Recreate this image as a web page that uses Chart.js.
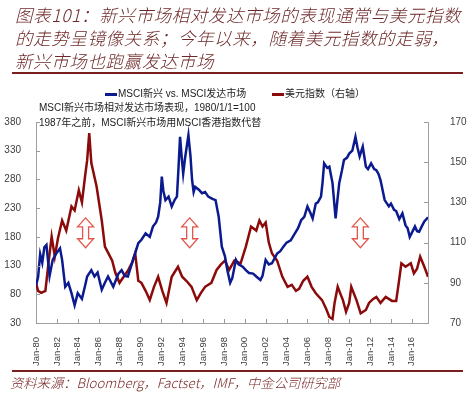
<!DOCTYPE html>
<html>
<head>
<meta charset="utf-8">
<script src="https://cdn.jsdelivr.net/npm/chart.js@4.4.1/dist/chart.umd.min.js"></script>
<style>
    body { margin: 0; width: 469px; height: 397px; background: #fff; position: relative; overflow: hidden;
           font-family: "Liberation Sans", Arial, "Noto Sans CJK SC", sans-serif; }
    #chart { position: absolute; left: 0; top: 0; }
    .title { position: absolute; left: 15px; top: 3px; width: 460px; font-family: "Noto Sans CJK SC", sans-serif;
             font-style: italic; font-weight: 300; font-size: 17.5px; line-height: 23px; color: #6e2828;
             letter-spacing: 0.6px; white-space: nowrap; }
    .rule { position: absolute; left: 12px; width: 451px; background: #7a1f1f; }
    .legend { position: absolute; top: 85px; font-size: 10px; color: #222; white-space: nowrap; }
    .legend i { display: inline-block; width: 12px; height: 2.5px; vertical-align: middle; margin-right: 1px; }
    .note { position: absolute; left: 39px; font-size: 10px; color: #222; white-space: nowrap; }
    .source { position: absolute; left: 10px; top: 373px; font-family: "Noto Sans CJK SC", sans-serif;
              font-style: italic; font-weight: 300; font-size: 13.3px; color: #7a2828; white-space: nowrap; }
</style>
</head>
<body>
<canvas id="chart" width="469" height="397"></canvas>
<div class="title">图表101：新兴市场相对发达市场的表现通常与美元指数<br>的走势呈镜像关系；今年以来，随着美元指数的走弱，<br>新兴市场也跑赢发达市场</div>
<div class="rule" style="top:72px;height:2px;"></div>
<div class="legend" style="left:105px;"><i style="background:#0b1a8f"></i>MSCI新兴 vs. MSCI发达市场</div>
<div class="legend" style="left:272px;"><i style="background:#8b0a0a"></i>美元指数（右轴）</div>
<div class="note" style="top:99px;">MSCI新兴市场相对发达市场表现，1980/1/1=100</div>
<div class="note" style="top:114px;">1987年之前，MSCI新兴市场用MSCI香港指数代替</div>
<div class="rule" style="top:370px;height:1.5px;"></div>
<div class="source">资料来源：Bloomberg，Factset，IMF，中金公司研究部</div>

<script>
// MSCI EM vs DM relative index (left axis)
const emYears = [
    1980.0, 1980.2, 1980.4, 1980.6, 1980.8, 1981.0, 1981.3, 1981.6, 1981.9, 1982.3, 1982.5,
    1982.8, 1983.1, 1983.4, 1983.7, 1984.0, 1984.4, 1984.7, 1984.9, 1985.3, 1985.6, 1985.9,
    1986.3, 1986.6, 1986.9, 1987.4, 1987.9, 1988.2, 1988.5, 1988.8, 1989.3, 1989.8, 1990.1,
    1990.5, 1990.9, 1991.2, 1991.5, 1991.7, 1991.9, 1992.05, 1992.2, 1992.4, 1992.7, 1993.0,
    1993.3, 1993.5, 1993.65, 1993.8, 1993.95, 1994.1, 1994.3, 1994.6, 1994.8, 1994.95, 1995.1,
    1995.25, 1995.6, 1995.9, 1996.2, 1996.5, 1996.9, 1997.2, 1997.5, 1997.8, 1998.1, 1998.35,
    1998.6, 1998.8, 1999.15, 1999.4, 1999.8, 2000.1, 2000.4, 2000.8, 2001.1, 2001.5, 2001.7,
    2002.0, 2002.3, 2002.6, 2003.1, 2003.4, 2003.7, 2004.0, 2004.4, 2004.8, 2005.1, 2005.4,
    2005.7, 2006.0, 2006.3, 2006.5, 2006.8, 2007.0, 2007.3, 2007.45, 2007.6, 2007.9, 2008.1,
    2008.4, 2008.7, 2008.85, 2009.05, 2009.3, 2009.5, 2009.8, 2010.0, 2010.3, 2010.6, 2010.8,
    2011.0, 2011.3, 2011.6, 2011.8, 2012.1, 2012.4, 2012.6, 2012.8, 2013.0, 2013.4, 2013.8,
    2014.0, 2014.3, 2014.5, 2014.8, 2015.1, 2015.4, 2015.6, 2015.8, 2016.0, 2016.3, 2016.5,
    2016.7, 2017.0, 2017.2, 2017.55
];
const emValues = [
    95, 110, 150, 135, 162, 166, 112, 140, 150, 160, 140,
    93, 100, 82, 61, 82, 72, 95, 111, 122, 111, 118,
    88, 100, 111, 93, 116, 122, 112, 111, 140, 169, 175,
    186, 180, 198, 205, 215, 240, 285, 260, 244, 250, 233,
    245, 250, 300, 354, 320, 290, 320, 357, 320, 279, 258,
    267, 262, 256, 258, 250, 246, 244, 215, 163, 146, 120,
    100, 108, 140, 132, 128, 122, 117, 116, 111, 105, 112,
    140, 132, 134, 151, 155, 163, 170, 174, 186, 195, 209,
    215, 233, 221, 212, 238, 240, 250, 275, 308, 300, 302,
    274, 212, 240, 274, 295, 314, 318, 325, 330, 354, 335,
    320, 337, 302, 298, 308, 298, 296, 290, 279, 244, 233,
    238, 227, 225, 211, 221, 200, 195, 180, 187, 198, 190,
    189, 200, 207, 214
];

// US dollar index (right axis)
const dxyYears = [
    1980.0, 1980.2, 1980.5, 1980.9, 1981.2, 1981.5, 1981.8, 1982.1, 1982.5, 1982.9, 1983.4,
    1983.7, 1984.1, 1984.4, 1984.7, 1984.9, 1985.1, 1985.3, 1985.8, 1986.3, 1986.6, 1987.0,
    1987.3, 1987.6, 1988.0, 1988.4, 1988.8, 1989.2, 1989.5, 1989.8, 1990.1, 1990.5, 1990.9,
    1991.3, 1991.7, 1992.1, 1992.5, 1993.0, 1993.6, 1994.0, 1994.4, 1994.9, 1995.4, 1995.8,
    1996.2, 1996.8, 1997.3, 1997.7, 1998.1, 1998.5, 1999.0, 1999.6, 2000.1, 2000.6, 2001.1,
    2001.4, 2001.7, 2002.0, 2002.3, 2002.6, 2003.1, 2003.6, 2004.1, 2004.5, 2004.9, 2005.2,
    2005.6, 2006.0, 2006.4, 2006.8, 2007.4, 2007.8, 2008.1, 2008.4, 2008.6, 2008.9, 2009.2,
    2009.4, 2009.7, 2010.0, 2010.2, 2010.5, 2010.7, 2011.1, 2011.6, 2011.9, 2012.3, 2012.6,
    2013.0, 2013.5, 2014.1, 2014.5, 2014.75, 2015.0, 2015.4, 2015.9, 2016.2, 2016.5, 2016.8,
    2017.2, 2017.55
];
const dxyValues = [
    90, 86, 85, 86, 100, 113, 103, 112, 121, 116, 128,
    126, 136, 130, 143, 151, 164.5, 149.6, 138, 121, 108, 104,
    101, 95, 90, 93, 96, 100, 104.8, 91, 90, 86, 81.4,
    88, 93, 86, 80, 93, 98, 93, 91, 88, 81.4, 85,
    88, 90, 96.4, 99, 101, 96.4, 101, 99.7, 108, 118, 116,
    121, 118, 120, 110, 104.7, 101, 93, 88, 89, 86, 87,
    91, 93, 88, 84.8, 81.4, 77, 73, 72, 80, 88, 84,
    81.4, 75.6, 80, 88, 84, 81.4, 74.8, 76.5, 80, 82, 83,
    80, 83, 81, 81, 90, 99.7, 98, 99.7, 94.7, 97, 103,
    98, 93
];

const tickYears = [1980, 1982, 1984, 1986, 1988, 1990, 1992, 1994, 1996, 1998,
                   2000, 2002, 2004, 2006, 2008, 2010, 2012, 2014, 2016];
const leftTicks = [30, 80, 130, 180, 230, 280, 330, 380];
const rightTicks = [70, 90, 110, 130, 150, 170];

// red "mirror" arrows, placed on the left axis scale
const arrowYears = [1984.75, 1994.72, 2011.07];
const arrowRange = [161, 213];

const toPoints = (xs, ys) => xs.map((x, i) => ({ x: x, y: ys[i] }));

// small inward tick marks like the original
const innerTicks = {
    id: 'innerTicks',
    afterDraw(chart) {
        const { ctx, chartArea: a, scales } = chart;
        ctx.save();
        ctx.strokeStyle = '#9a9a9a';
        ctx.lineWidth = 1;
        ctx.beginPath();
        tickYears.forEach(v => {
            const x = Math.round(scales.x.getPixelForValue(v)) + 0.5;
            ctx.moveTo(x, a.bottom); ctx.lineTo(x, a.bottom - 4);
        });
        leftTicks.forEach(v => {
            const y = Math.round(scales.y.getPixelForValue(v)) + 0.5;
            ctx.moveTo(a.left, y); ctx.lineTo(a.left + 4, y);
        });
        rightTicks.forEach(v => {
            const y = Math.round(scales.y1.getPixelForValue(v)) + 0.5;
            ctx.moveTo(a.right, y); ctx.lineTo(a.right - 4, y);
        });
        ctx.stroke();
        ctx.restore();
    }
};

const mirrorArrows = {
    id: 'mirrorArrows',
    afterDatasetsDraw(chart) {
        const { ctx, scales } = chart;
        ctx.save();
        ctx.strokeStyle = '#e2574c';
        ctx.fillStyle = '#ffffff';
        ctx.lineWidth = 1.3;
        arrowYears.forEach(yr => {
            const cx = scales.x.getPixelForValue(yr);
            const top = scales.y.getPixelForValue(arrowRange[1]);
            const bot = scales.y.getPixelForValue(arrowRange[0]);
            const hw = 8, sw = 3, hh = 9;
            ctx.beginPath();
            ctx.moveTo(cx, top);
            ctx.lineTo(cx + hw, top + hh);
            ctx.lineTo(cx + sw, top + hh);
            ctx.lineTo(cx + sw, bot - hh);
            ctx.lineTo(cx + hw, bot - hh);
            ctx.lineTo(cx, bot);
            ctx.lineTo(cx - hw, bot - hh);
            ctx.lineTo(cx - sw, bot - hh);
            ctx.lineTo(cx - sw, top + hh);
            ctx.lineTo(cx - hw, top + hh);
            ctx.closePath();
            ctx.fill();
            ctx.stroke();
        });
        ctx.restore();
    }
};

const tickFont = { family: '"Liberation Sans", Arial, sans-serif', size: 10 };

new Chart(document.getElementById('chart'), {
    type: 'line',
    data: {
        datasets: [
            {
                label: 'MSCI新兴 vs. MSCI发达市场',
                data: toPoints(emYears, emValues),
                yAxisID: 'y',
                borderColor: '#0b1a8f',
                borderWidth: 2.5,
                pointRadius: 0,
                tension: 0
            },
            {
                label: '美元指数（右轴）',
                data: toPoints(dxyYears, dxyValues),
                yAxisID: 'y1',
                borderColor: '#8b0a0a',
                borderWidth: 2.5,
                pointRadius: 0,
                tension: 0
            }
        ]
    },
    options: {
        responsive: false,
        animation: false,
        layout: { padding: { top: 122, left: 0, right: 0, bottom: 0 } },
        plugins: { legend: { display: false }, tooltip: { enabled: false } },
        scales: {
            x: {
                type: 'linear',
                min: 1980,
                max: 2017.55,
                afterBuildTicks: s => { s.ticks = tickYears.map(v => ({ value: v })); },
                afterFit: s => { s.height = 74; },
                grid: { display: false },
                border: { color: '#a0a0a0', width: 1 },
                ticks: {
                    autoSkip: false,
                    minRotation: 90,
                    maxRotation: 90,
                    padding: 6,
                    color: '#404040',
                    font: { family: tickFont.family, size: 9.5 },
                    callback: v => 'Jan-' + String(v % 100).padStart(2, '0')
                }
            },
            y: {
                position: 'left',
                min: 30,
                max: 380,
                afterBuildTicks: s => { s.ticks = leftTicks.map(v => ({ value: v })); },
                afterFit: s => { s.width = 36; },
                grid: { display: false },
                border: { color: '#a0a0a0', width: 1 },
                ticks: { padding: 7, color: '#404040', font: tickFont }
            },
            y1: {
                position: 'right',
                min: 70,
                max: 170,
                afterBuildTicks: s => { s.ticks = rightTicks.map(v => ({ value: v })); },
                afterFit: s => { s.width = 41; },
                grid: { display: false },
                border: { color: '#a0a0a0', width: 1 },
                ticks: { padding: 14, color: '#404040', font: tickFont }
            }
        }
    },
    plugins: [innerTicks, mirrorArrows]
});
</script>
</body>
</html>
